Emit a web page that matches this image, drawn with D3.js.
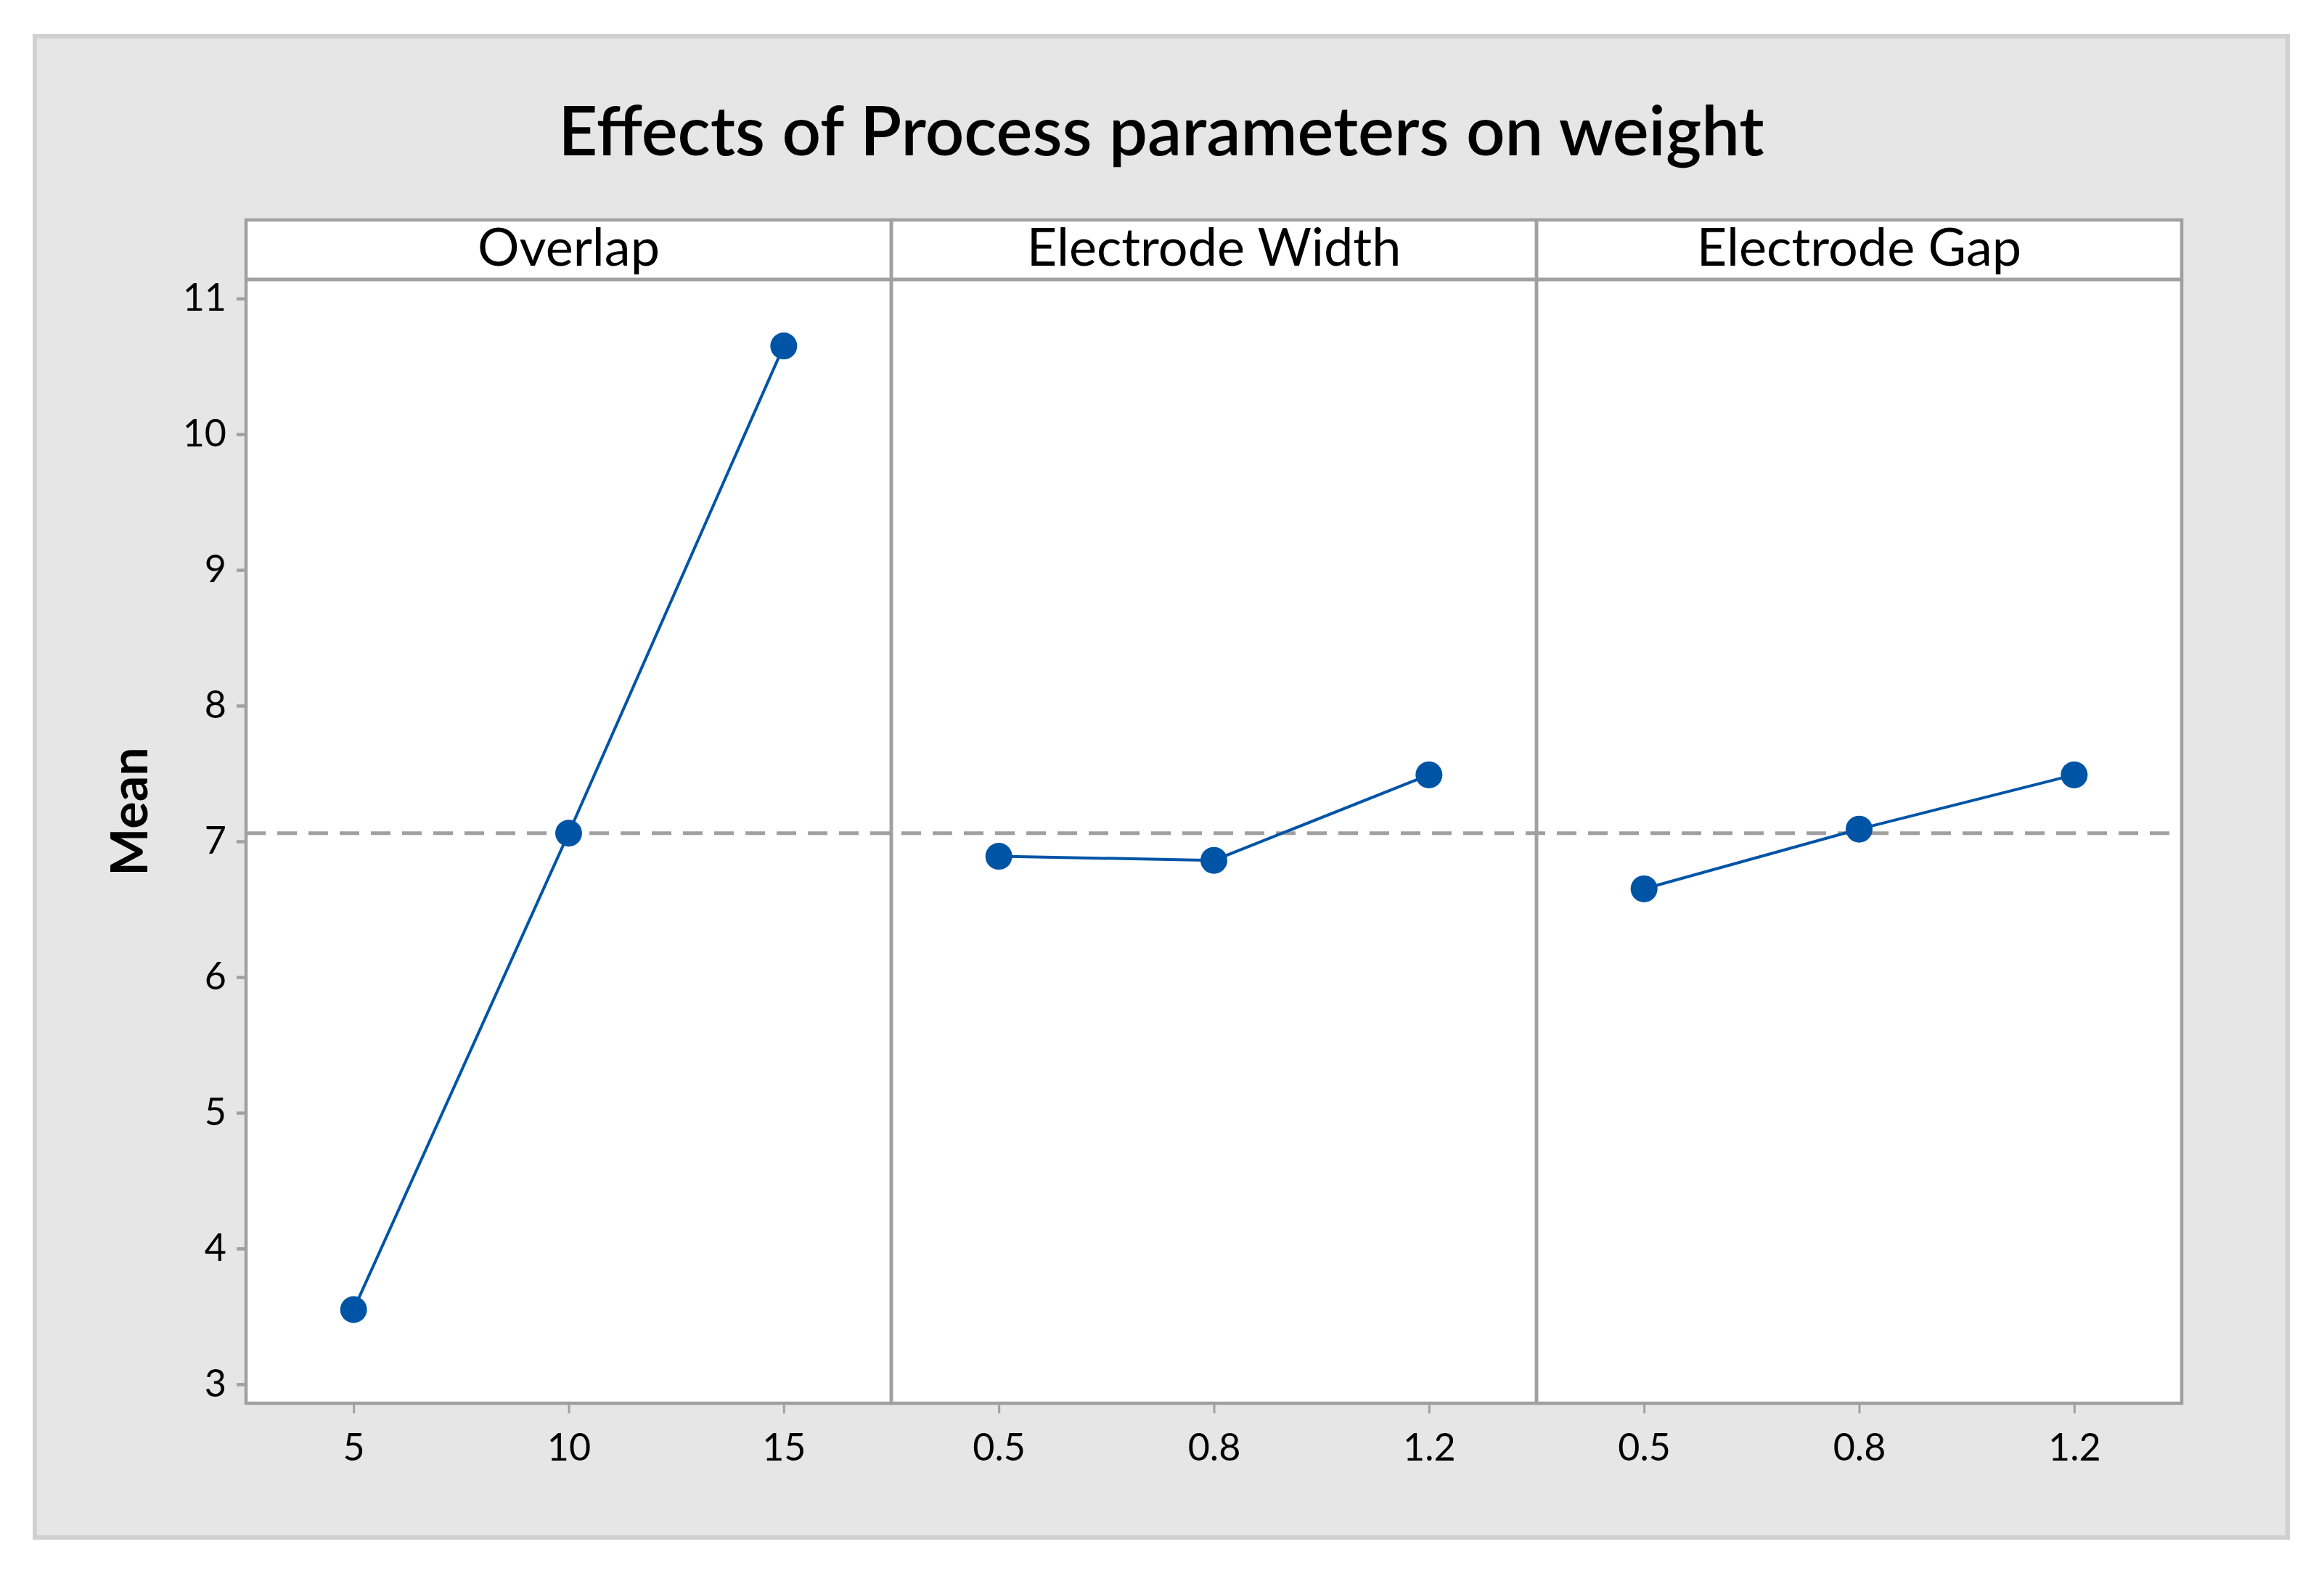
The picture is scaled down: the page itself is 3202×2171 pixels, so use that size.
<!DOCTYPE html>
<html>
<head>
    <meta charset="utf-8" />
    <title>Effects of Process parameters on weight</title>
    <style>
        body { margin: 0; background: #fff; overflow: hidden; }
        text { font-family: Lato, "Open Sans", sans-serif; fill: #000; }
    </style>
</head>
<body>
    <div id="chart"></div>
    <script src="https://d3js.org/d3.v7.min.js"></script>
    <script>
        // chart data
        var panelNames = ["Overlap", "Electrode Width", "Electrode Gap"];
        var overlapLevels = ["5", "10", "15"];
        var overlapMeans = [3.55, 7.06, 10.65];
        var widthLevels = ["0.5", "0.8", "1.2"];
        var widthMeans = [6.89, 6.86, 7.49];
        var gapLevels = ["0.5", "0.8", "1.2"];
        var gapMeans = [6.65, 7.09, 7.49];
        var grandMean = 7.06;
        var yTicks = [3, 4, 5, 6, 7, 8, 9, 10, 11];

        var levels = [overlapLevels, widthLevels, gapLevels];
        var means = [overlapMeans, widthMeans, gapMeans];

        var W = 3202, H = 2171;
        var plot = { left: 339, right: 3006, top: 303, strip: 385, bottom: 1933 };
        var gridColor = "#a0a0a0";
        var blue = "#0054a6";

        var svg = d3.select("#chart")
            .append("svg")
            .attr("width", W)
            .attr("height", H);

        // outer grey frame
        svg.append("rect")
            .attr("x", 48).attr("y", 50)
            .attr("width", 3104).attr("height", 2068)
            .attr("fill", "#e6e6e6")
            .attr("stroke", "#d0d0d0")
            .attr("stroke-width", 6);

        svg.append("text")
            .attr("x", 1600).attr("y", 214)
            .attr("text-anchor", "middle")
            .style("font-size", "94px")
            .style("font-weight", 600)
            .text("Effects of Process parameters on weight");

        var y = d3.scaleLinear()
            .domain([2.86, 11.14])
            .range([plot.bottom, plot.strip]);

        var panelX = d3.scaleBand()
            .domain(panelNames)
            .range([plot.left, plot.right]);

        // white plotting area
        svg.append("rect")
            .attr("x", plot.left).attr("y", plot.top)
            .attr("width", plot.right - plot.left)
            .attr("height", plot.bottom - plot.top)
            .attr("fill", "#fff");

        // y axis
        var yAxis = svg.append("g")
            .attr("transform", `translate(${plot.left},0)`)
            .call(d3.axisLeft(y).tickValues(yTicks).tickSize(13).tickPadding(14));
        yAxis.select(".domain").remove();
        yAxis.selectAll("line").attr("stroke", gridColor).attr("stroke-width", 4.5);
        yAxis.selectAll("text").style("font-size", "52px").style("font-family", "Lato");

        svg.append("text")
            .attr("transform", "translate(203,1118) rotate(-90)")
            .attr("text-anchor", "middle")
            .style("font-size", "70px")
            .style("font-weight", 700)
            .text("Mean");

        // grand mean reference line
        svg.append("line")
            .attr("x1", plot.left).attr("x2", plot.right)
            .attr("y1", y(grandMean)).attr("y2", y(grandMean))
            .attr("stroke", gridColor)
            .attr("stroke-width", 5)
            .attr("stroke-dasharray", "27,16");

        panelNames.forEach(function (name, i) {
            var x0 = panelX(name);
            var x = d3.scalePoint()
                .domain(levels[i])
                .range([x0, x0 + panelX.bandwidth()])
                .padding(0.5);

            var g = svg.append("g");

            // x axis
            var xAxis = g.append("g")
                .attr("transform", `translate(0,${plot.bottom})`)
                .call(d3.axisBottom(x).tickSize(14).tickPadding(28));
            xAxis.select(".domain").remove();
            xAxis.selectAll("line").attr("stroke", gridColor).attr("stroke-width", 3);
            xAxis.selectAll("text").style("font-size", "52px").style("font-family", "Lato");

            // strip label
            g.append("text")
                .attr("x", x0 + panelX.bandwidth() / 2)
                .attr("y", 366)
                .attr("text-anchor", "middle")
                .style("font-size", "72px")
                .text(name);

            var pts = levels[i].map(function (lv, j) {
                return [x(lv), y(means[i][j])];
            });

            g.append("path")
                .attr("d", d3.line()(pts))
                .attr("fill", "none")
                .attr("stroke", blue)
                .attr("stroke-width", 4);

            g.selectAll("circle")
                .data(pts)
                .join("circle")
                .attr("cx", d => d[0])
                .attr("cy", d => d[1])
                .attr("r", 18.5)
                .attr("fill", blue);

            // panel border
            g.append("rect")
                .attr("x", x0).attr("y", plot.top)
                .attr("width", panelX.bandwidth())
                .attr("height", plot.bottom - plot.top)
                .attr("fill", "none")
                .attr("stroke", gridColor)
                .attr("stroke-width", 4.5);
        });

        // strip bottom line
        svg.append("line")
            .attr("x1", plot.left).attr("x2", plot.right)
            .attr("y1", plot.strip).attr("y2", plot.strip)
            .attr("stroke", gridColor)
            .attr("stroke-width", 5);
    </script>
</body>
</html>
